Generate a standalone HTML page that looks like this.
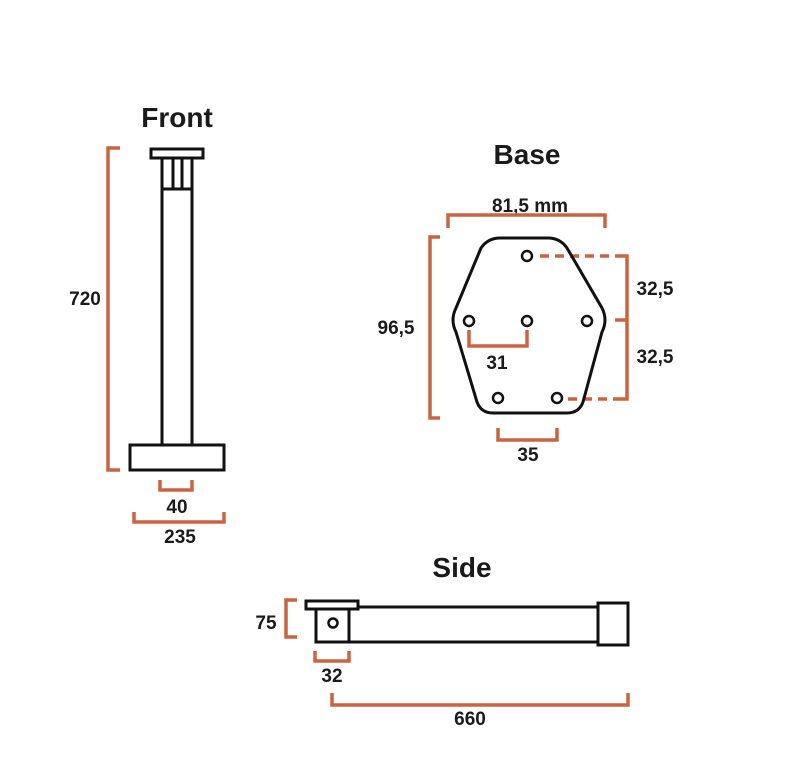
<!DOCTYPE html>
<html><head><style>body{margin:0;background:#fff}svg{display:block}</style></head><body>
<svg width="800" height="781" viewBox="0 0 800 781" xmlns="http://www.w3.org/2000/svg">
<g font-family="Liberation Sans Narrow, Liberation Sans, sans-serif" font-weight="bold" fill="#1a1a1a" text-anchor="middle">
<text x="177" y="127" font-size="28">Front</text>
<text x="527" y="164" font-size="28">Base</text>
<text x="462" y="577" font-size="28">Side</text>
</g>
<g font-family="Liberation Sans, sans-serif" font-weight="bold" fill="#1a1a1a" text-anchor="middle" font-size="19">
<text x="85" y="305">720</text>
<text x="177" y="513">40</text>
<text x="180" y="543">235</text>
<text x="530" y="212">81,5 mm</text>
<text x="396" y="334">96,5</text>
<text x="655" y="295">32,5</text>
<text x="655" y="363">32,5</text>
<text x="497" y="369">31</text>
<text x="528" y="461">35</text>
<text x="266" y="629">75</text>
<text x="332" y="682">32</text>
<text x="470" y="725">660</text>
</g>
<g fill="none" stroke="#c8643f" stroke-width="3.5">
<path d="M120 148H108V470H120"/>
<path d="M160 480V490H192V480"/>
<path d="M134 512V522H224V512"/>
<path d="M448 228V215H605V228"/>
<path d="M440 237H430V418H440"/>
<path d="M615 256H627V399H615M627 320H615"/>
<path d="M540 256H615M568 399H615" stroke-dasharray="9 6"/>
<path d="M469 330V346H527V330"/>
<path d="M498 428V440H557V428"/>
<path d="M297 600H286V637H297"/>
<path d="M315 651V661H349V651"/>
<path d="M332 693V705H628V693"/>
</g>
<g fill="none" stroke="#111" stroke-width="3">
<rect x="151" y="149" width="52" height="9"/>
<path d="M162 158V445M192 158V445M173 158V189M182 158V189M162 189H192"/>
<rect x="130" y="445" width="94" height="25"/>
<path d="M500 238H548Q560 238 567 248L602 308Q608 320 602 332L583 402Q579 413 567 413H493Q481 413 477 402L456 332Q450 320 456 308L481 248Q488 238 500 238Z"/>
<g stroke-width="2.5">
<circle cx="527" cy="256" r="5"/><circle cx="469" cy="321" r="5"/><circle cx="527" cy="321" r="5"/><circle cx="587" cy="321" r="5"/><circle cx="498" cy="398" r="5"/><circle cx="557" cy="398" r="5"/>
<circle cx="333" cy="623" r="4.5"/>
</g>
<rect x="306" y="601" width="52" height="8"/>
<rect x="316" y="609" width="33" height="33"/>
<path d="M358 607H598M349 642H598"/>
<rect x="598" y="603" width="30" height="42"/>
</g>
</svg>
</body></html>
